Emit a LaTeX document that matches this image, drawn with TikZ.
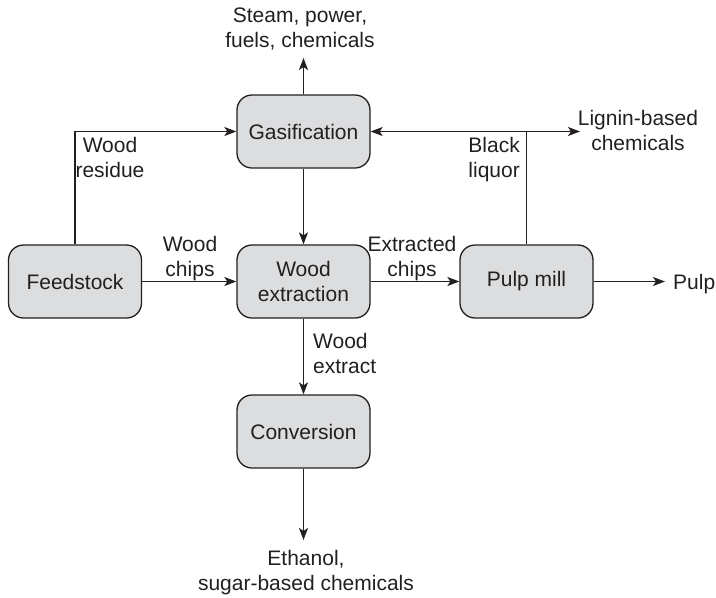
\documentclass[tikz,border=0pt]{standalone}
\usepackage{fontspec}
\setmainfont{Liberation Sans}
\usetikzlibrary{arrows.meta}
\definecolor{boxfill}{HTML}{DCDDDF}
\definecolor{ink}{HTML}{231F20}
\begin{document}
\begin{tikzpicture}[x=1pt,y=-1pt,
  font=\fontsize{21}{25}\selectfont, text=ink,
  unit/.style={draw=ink, fill=boxfill, rounded corners=15pt, line width=1.3pt,
    minimum width=133pt, minimum height=73pt, align=center, inner sep=0pt},
  tip/.tip={Stealth[length=12pt,width=9pt,inset=3pt]},
  flow/.style={draw=ink, line width=1.3pt, -tip},
  pipe/.style={draw=ink, line width=1.3pt},
  lbl/.style={align=center, inner sep=0pt}]
\useasboundingbox (0,0) rectangle (716,598);

% process units
\node[unit] (gas)  at (303.5,131.5) {Gasification};
\node[unit] (feed) at (75,281.5)    {Feedstock};
\node[unit] (ext)  at (303.5,281.5) {Wood\\extraction};
\node[unit] (pulp) at (526.5,281.5) {Pulp mill};
\node[unit] (conv) at (303.5,431.5) {Conversion};

% products and stream labels
\node[lbl] (steam)   at (300,29)   {Steam, power,\\fuels, chemicals};
\node[lbl] (residue) at (110,157)  {Wood\\residue};
\node[lbl] (chips)   at (190,259)  {Wood\\chips};
\node[lbl] (exchips) at (412,259)  {Extracted\\chips};
\node[lbl, align=right, anchor=east] (liquor) at (520,160) {Black\\liquor};
\node[lbl] (lignin)  at (638,130)  {Lignin-based\\chemicals};
\node[lbl, anchor=west] (pulpout) at (673,284) {Pulp};
\node[lbl, align=left, anchor=west] (extract) at (313,353) {Wood\\extract};
\node[lbl] (ethanol) at (306,573)  {Ethanol,\\sugar-based chemicals};

% free arrow ends
\coordinate (steamtip)  at (303.5,58);
\coordinate (lignintip) at (580,131.5);
\coordinate (pulptip)   at (665,281.5);
\coordinate (ethtip)    at (303.5,540);

% streams
\draw[flow] (gas.north) -- (steamtip);
\draw[flow] (feed.north) |- (gas.west);
\draw[flow] (feed.east) -- (ext.west);
\draw[flow] (gas.south) -- (ext.north);
\draw[flow] (ext.east) -- (pulp.west);
\draw[flow] (pulp.east) -- (pulptip);
\draw[flow] (ext.south) -- (conv.north);
\draw[flow] (conv.south) -- (ethtip);
\draw[flow, tip-tip] (gas.east) -- (lignintip);
\draw[pipe] (pulp.north) -- (pulp.north |- lignintip);
\end{tikzpicture}
\end{document}
